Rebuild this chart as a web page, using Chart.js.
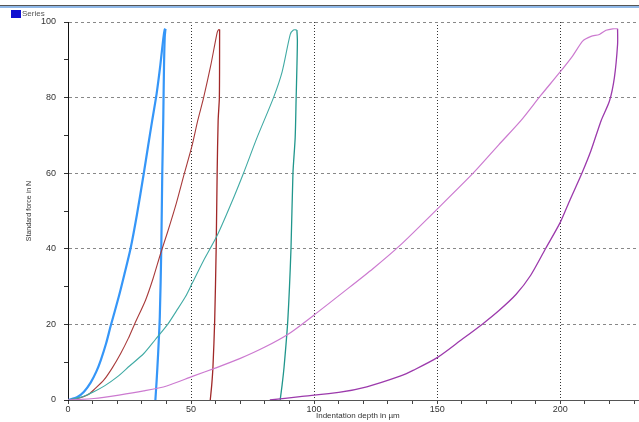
<!DOCTYPE html>
<html>
<head>
<meta charset="utf-8">
<script src="https://cdn.jsdelivr.net/npm/chart.js@4"></script>
<style>
  html,body{margin:0;padding:0;background:#fff;overflow:hidden;}
  #wrap{position:relative;width:639px;height:422px;}
  #topbar{position:absolute;left:0;top:0;width:639px;height:5px;border-bottom:1px solid #555;}
  #topline{position:absolute;left:0;top:6px;width:639px;height:2px;background:#8fb8e8;}
  #legend{position:absolute;left:11px;top:9px;font:8px "Liberation Sans",Arial,sans-serif;color:#555;display:flex;align-items:center;}
  #legend span.box{display:inline-block;width:10px;height:8px;background:#1010d0;margin-right:1px;}
  #xtitle{position:absolute;left:316px;top:411px;font:8px "Liberation Sans",Arial,sans-serif;color:#333;white-space:nowrap;}
  canvas{position:absolute;left:0;top:0;}
</style>
</head>
<body>
<div id="wrap">
  <div id="topbar"></div>
  <div id="topline"></div>
  <canvas id="c" width="639" height="422"></canvas>
  <div id="legend"><span class="box"></span>Series</div>
  <div id="xtitle">Indentation depth in µm</div>
</div>
<script>
const xTickLabels = [0, 50, 100, 150, 200];
const yTickLabels = [0, 20, 40, 60, 80, 100];

const blueLoad = [[0,0],[3.8,0.8],[6.5,2.2],[9.2,4.6],[11.5,7.5],[13.3,10.5],[15.5,15],[17.3,19.5],[20.7,27.5],[23,33.5],[25.4,40],[28,49],[30.8,60],[32.5,67],[34.2,73.9],[36,81],[37.5,88.5],[38.7,95.5],[39.3,98],[39.6,98.2]];
const blueUnload = [[39.6,98.2],[39.3,96],[39.0,88],[38.7,74],[38.3,60],[37.9,40],[37.3,22],[36.6,12],[36,5],[35.5,0]];

const redLoad = [[0,0],[4,0.4],[7.9,1.3],[11,3],[14.6,5.3],[18,8.5],[21.4,12.3],[24.5,16.3],[27,20],[31.5,26.4],[34.5,32],[37.6,38.7],[40.5,44.5],[44,52],[47.3,60],[50.4,67.3],[52.7,73.9],[55.1,80],[58,88.5],[60.6,97.2],[61.2,98],[61.6,98]];
const redUnload = [[61.6,98],[61.6,97],[61.5,80],[61,73.9],[60.6,60],[60.2,40],[59.6,21],[58.9,8.8],[58.4,4],[57.8,0]];

const tealLoad = [[0,0],[5,0.7],[10.5,2.2],[15,3.8],[20,6.1],[25,9],[30.8,12.3],[35.5,16],[40.5,20],[44,23.5],[47.7,27.3],[50.4,30.8],[55,36.8],[60.6,43.5],[66,51.5],[71.3,60],[76.8,69.4],[83.5,80],[87,86.8],[90.3,96.7],[91.6,97.9],[93,97.9]];
const tealUnload = [[93,97.9],[93.2,95],[93,87.9],[92.7,80],[92.3,69.4],[91.4,60],[90.6,40],[89.3,21],[87.8,8.8],[87,4],[86.2,0]];

const purpleLoad = [[0,0],[10.5,0.4],[20.7,1.3],[30.8,2.4],[40.1,3.7],[50.8,6.3],[60.1,8.5],[70,11],[80,14],[89.9,17.6],[100,22.5],[112,28.6],[124,34.8],[134.9,40.9],[150,50.5],[164.6,60],[175,67.5],[184,73.9],[192,80.5],[199.7,86.6],[205,91],[209.2,95],[212.5,96.2],[215.9,96.7],[218.6,97.8],[221.3,98.2],[223.3,98.2]];
const purpleUnload = [[223.3,98.2],[223.3,94.1],[222,85.3],[220,79.1],[216.6,73.9],[212.5,66],[208.8,60],[204,53],[200,47],[194,40],[188,33],[182,27.9],[175,23.6],[168.6,20.2],[160,16],[150,11.2],[140.4,7.9],[134.9,6.3],[121.4,3.5],[110,2],[94.3,0.9],[82,0]];

function pts(a){ return a.map(p => ({x:p[0], y:p[1]})); }
function ds(data, color, w){
  return {data: pts(data), borderColor: color, borderWidth: w, showLine: true, pointRadius: 0, tension: 0.25, fill: false};
}

const font = {family: '"Liberation Sans", Arial, sans-serif', size: 9};

new Chart(document.getElementById('c'), {
  type: 'scatter',
  data: {
    datasets: [
      ds(purpleLoad, '#cc7ad0', 1.2),
      ds(purpleUnload, '#9c3aac', 1.3),
      ds(tealLoad, '#40aaa4', 1.1),
      ds(tealUnload, '#20968c', 1.3),
      ds(redLoad, '#a83a3a', 1.1),
      ds(redUnload, '#a02828', 1.3),
      ds(blueLoad, '#3596f8', 2.2),
      ds(blueUnload, '#3596f8', 2.2)
    ]
  },
  options: {
    responsive: false,
    animation: false,
    layout: {padding: {top: 22, right: 0, left: 0, bottom: 0}},
    plugins: {legend: {display: false}, tooltip: {enabled: false}},
    scales: {
      x: {
        type: 'linear', min: 0, max: 232,
        afterFit: s => { s.height = 22; },
        border: {color: '#555', width: 1, dash: [1, 2]},
        grid: {
          color: c => (c.tick && c.tick.value % 50 === 0 && c.tick.value !== 0) ? '#333' : 'rgba(0,0,0,0)',
          tickColor: '#444',
          tickBorderDash: [],
          tickLength: 4,
          lineWidth: 1
        },
        ticks: {
          stepSize: 10, includeBounds: false, maxRotation: 0, autoSkip: false,
          padding: 0, color: '#333', font: font,
          callback: v => xTickLabels.includes(v) ? String(v) : ''
        },
        title: {display: false}
      },
      y: {
        type: 'linear', min: 0, max: 100,
        afterFit: s => { s.width = 68; },
        border: {color: '#111', width: 1, dash: [3, 3]},
        grid: {
          color: c => (c.tick && c.tick.value % 20 === 0 && c.tick.value !== 0) ? '#888' : 'rgba(0,0,0,0)',
          tickColor: '#333',
          tickBorderDash: [],
          tickLength: 4,
          lineWidth: 1
        },
        ticks: {
          stepSize: 10, autoSkip: false, padding: 8, color: '#333', font: font,
          callback: v => yTickLabels.includes(v) ? String(v) : ''
        },
        title: {display: true, text: 'Standard force in N', color: '#333', font: {family: font.family, size: 7}, padding: {top: 25, bottom: 0}}
      }
    }
  }
});
</script>
</body>
</html>
